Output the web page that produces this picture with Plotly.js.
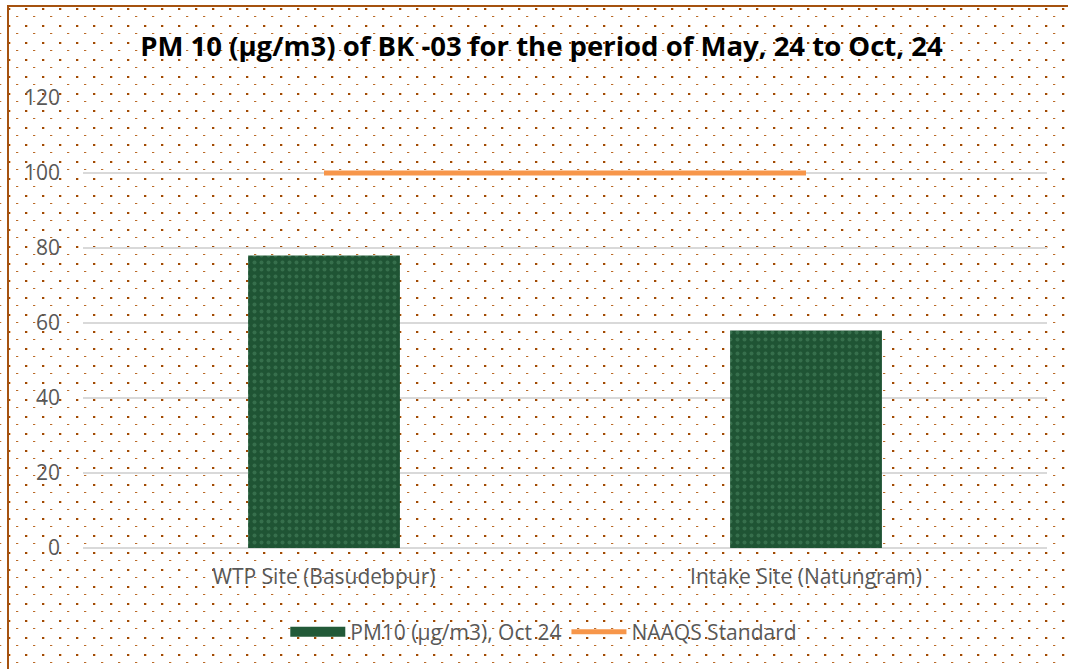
<!DOCTYPE html>
<html>
<head>
<meta charset="utf-8">
<script src="https://cdn.plot.ly/plotly-3.0.1.min.js"></script>
<style>
  html, body { margin: 0; padding: 0; width: 1068px; height: 669px; overflow: hidden; background: #ffffff; }
  #bg {
    position: absolute; left: 0; top: 0; width: 1068px; height: 669px;
    background-image: url("data:image/svg+xml;utf8,<svg xmlns='http://www.w3.org/2000/svg' width='17' height='17'><rect x='0' y='0' width='2' height='2' fill='%239E4A06'/><rect x='2' y='0' width='1' height='2' fill='%23F2C9A3'/><rect x='8' y='8' width='2' height='1' fill='%23B86A2A'/><rect x='10' y='8' width='1' height='1' fill='%23F6D8BC'/></svg>");
    background-size: 17px 17px;
    background-position: 8px 8px;
  }
  #frame {
    position: absolute; left: 7px; top: 5px; width: 1068px; height: 669px;
    border-left: 2px solid #A5520F; border-top: 2px solid #A5520F;
  }
  #chart { position: absolute; left: 0; top: 0; width: 1068px; height: 669px; }
</style>
</head>
<body>
<div id="bg"></div>
<div id="frame"></div>
<div id="chart"></div>
<script>
// Data
const categories = ["WTP Site (Basudebpur)", "Intake Site (Natungram)"];
const pm10Values = [78, 58];
const naaqsStandard = [100, 100];
const seriesNames = ["PM10 (µg/m3), Oct 24", "NAAQS Standard"];
const chartTitle = "PM 10 (µg/m3) of BK -03 for the period of May, 24 to Oct, 24";
const yTicks = [0, 20, 40, 60, 80, 100, 120];

const fontFam = "'Open Sans', 'DejaVu Sans', sans-serif";
const barGreen = "#235a38";

const traces = [
  {
    type: "bar",
    name: seriesNames[0],
    x: categories,
    y: pm10Values,
    width: 0.315,
    showlegend: false,
    legendgroup: "pm",
    marker: {
      color: barGreen,
      line: { width: 0 },
      pattern: { shape: ".", fgcolor: "#4d8a63", bgcolor: "#1f5434", size: 7, solidity: 0.25, fillmode: "overlay" }
    },
    hoverinfo: "skip"
  },
  {
    // legend proxy so the bar series gets a wide rectangular swatch
    type: "scatter",
    mode: "lines",
    name: seriesNames[0],
    legendgroup: "pm",
    x: [null],
    y: [null],
    line: { color: barGreen, width: 15 },
    hoverinfo: "skip"
  },
  {
    type: "scatter",
    mode: "lines",
    name: seriesNames[1],
    x: categories,
    y: naaqsStandard,
    line: { color: "#F7964A", width: 5 },
    hoverinfo: "skip"
  }
];

const layout = {
  width: 1068,
  height: 669,
  paper_bgcolor: "rgba(0,0,0,0)",
  plot_bgcolor: "rgba(0,0,0,0)",
  margin: { l: 83, r: 21, t: 98, b: 121 },
  title: {
    text: chartTitle,
    x: 0.507, xanchor: "center",
    y: 0.93, yanchor: "middle",
    font: { family: fontFam, size: 27.5, color: "#000000", weight: 700 }
  },
  xaxis: {
    type: "category",
    showgrid: false,
    showline: false,
    zeroline: false,
    ticks: "",
    tickfont: { family: fontFam, size: 21, color: "#595959" },
    ticklabelstandoff: 14,
    fixedrange: true
  },
  yaxis: {
    range: [0, 120],
    tickvals: yTicks,
    ticktext: yTicks.map(String),
    showgrid: true,
    gridcolor: "#d9d9d9",
    gridwidth: 1.5,
    zeroline: true,
    zerolinecolor: "#d9d9d9",
    zerolinewidth: 1.5,
    showline: false,
    ticks: "",
    tickfont: { family: fontFam, size: 21, color: "#595959" },
    ticklabelstandoff: 22,
    fixedrange: true
  },
  showlegend: true,
  legend: {
    orientation: "h",
    x: 0.478, xanchor: "center",
    y: -0.187, yanchor: "middle",
    font: { family: fontFam, size: 21, color: "#595959" },
    itemwidth: 55,
    bgcolor: "rgba(0,0,0,0)",
    traceorder: "normal"
  },
  bargap: 0.685
};

Plotly.newPlot("chart", traces, layout, { displayModeBar: false, staticPlot: true });
</script>
</body>
</html>
